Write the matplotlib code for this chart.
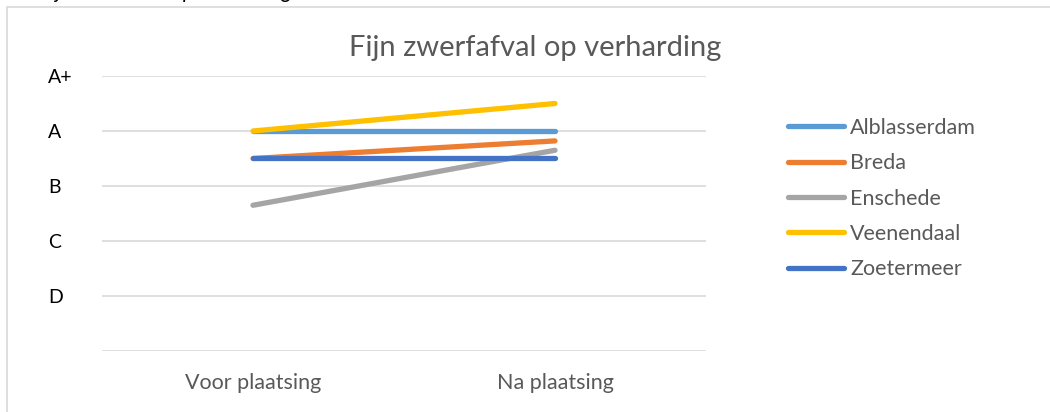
import matplotlib.pyplot as plt
from matplotlib.patches import Rectangle

# Data
categories = ["Voor plaatsing", "Na plaatsing"]
grade_labels = ["", "D", "C", "B", "A", "A+"]
alblasserdam = [4.0, 4.0]
breda = [3.5, 3.82]
enschede = [2.65, 3.65]
veenendaal = [4.0, 4.5]
zoetermeer = [3.5, 3.5]

series = [
    ("Alblasserdam", alblasserdam, "#5B9BD5"),
    ("Breda", breda, "#ED7D31"),
    ("Enschede", enschede, "#A5A5A5"),
    ("Veenendaal", veenendaal, "#FFC000"),
    ("Zoetermeer", zoetermeer, "#4472C4"),
]

plt.rcParams['font.family'] = ['Lato', 'DejaVu Sans']

fig = plt.figure(figsize=(10.5, 4.12), dpi=100)
ax = fig.add_axes([102 / 1050, 61 / 412, 604 / 1050, 275 / 412])

# chart frame (cut off at right and bottom)
fig.patches.append(Rectangle((7 / 1050, -0.1), 1.2, (412 - 6.5) / 412 + 0.1,
                             transform=fig.transFigure, fill=False,
                             edgecolor="#D9D9D9", linewidth=1.2))

# caption above the chart, mostly cut off at the top edge
fig.text(40 / 1050, 1.0 - 2 / 412, "Fijn zwerfafval op verharding", style="italic",
         fontsize=15, color="black", va="bottom", ha="left")

x = list(range(len(categories)))
for name, vals, color in series:
    ax.plot(x, vals, color=color, linewidth=3.8, solid_capstyle="round", label=name)

ax.set_xlim(-0.5, 1.5)
ax.set_ylim(0, 5)
ax.set_yticks(range(len(grade_labels)))
ax.set_yticklabels(grade_labels, fontsize=14, color="black", ha="left")
ax.tick_params(axis="y", length=0, pad=39)
ax.set_xticks(x)
ax.set_xticklabels(categories, fontsize=15.5, color="#595959")
ax.tick_params(axis="x", length=0, pad=16)
ax.grid(axis="y", color="#D9D9D9", linewidth=1.2)
ax.set_axisbelow(True)
for s in ax.spines.values():
    s.set_visible(False)

fig.text(535 / 1050, 1 - 48 / 412, "Fijn zwerfafval op verharding",
         fontsize=21, color="#595959", ha="center", va="center")

ax.legend(loc="upper left", bbox_to_anchor=(788 / 1050, 1 - 118 / 412),
          bbox_transform=fig.transFigure, frameon=False, fontsize=15.5,
          labelcolor="#595959", handlelength=2.6, handletextpad=0.3,
          labelspacing=0.71, borderpad=0, borderaxespad=0)

plt.savefig("out.png", dpi=100)
